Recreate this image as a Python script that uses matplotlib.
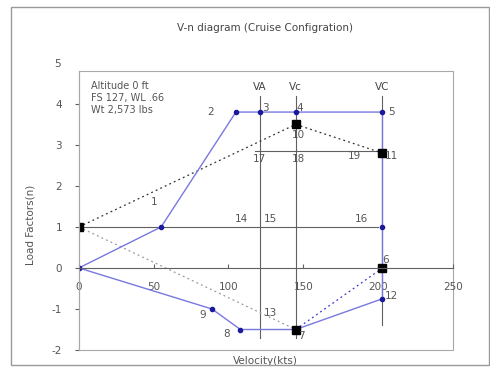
import matplotlib
matplotlib.use("Agg")
import matplotlib.pyplot as plt
from matplotlib.patches import Rectangle

plt.rcParams["axes.unicode_minus"] = False

# envelope (blue) points 0..12 in drawing order
env_v = [0, 55, 105, 121, 145, 203, 203, 203, 203, 145, 108, 89, 0]
env_n = [0, 1.0, 3.8, 3.8, 3.8, 3.8, 1.0, 0.0, -0.75, -1.5, -1.5, -1.0, 0]

# gust lines (black squares, dotted)
gust_up_v = [0, 145, 203]
gust_up_n = [1.0, 3.5, 2.8]
gust_dn_v = [0, 145]
gust_dn_n = [1.0, -1.5]
gust_blue_v = [145, 203]
gust_blue_n = [-1.5, 0.0]
sq_v = [0, 145, 203, 203, 145]
sq_n = [1.0, 3.5, 2.8, 0.0, -1.5]

# reference speeds
v_names = ["VA", "Vc", "VC"]
v_vals = [121, 145, 203]

# point numbers and where they sit
lab_txt = ["1", "2", "3", "4", "5", "6", "7", "8", "9", "10", "11", "12", "13",
           "14", "15", "16", "17", "18", "19"]
lab_v = [50, 88, 125, 148, 209, 205, 149, 99, 83, 147, 209, 209, 128,
         109, 128, 189, 121, 147, 184]
lab_n = [1.6, 3.8, 3.9, 3.9, 3.8, 0.2, -1.65, -1.6, -1.15, 3.25, 2.72, -0.68, -1.1,
         1.2, 1.2, 1.2, 2.65, 2.65, 2.72]

xticks = [0, 50, 100, 150, 200, 250]
yticks = [-2, -1, 0, 1, 2, 3, 4]

gray = "#606060"
fig = plt.figure(figsize=(4.9, 3.7), dpi=100)
fig.patches.append(Rectangle((0.022, 0.014), 0.975, 0.966, transform=fig.transFigure,
                             fill=False, edgecolor="#9a9a9a", linewidth=1.0))
ax = fig.add_axes([0.161, 0.054, 0.763, 0.754])
ax.set_xlim(0, 250)
ax.set_ylim(-2, 4.8)

# plot area frame
ax.add_patch(Rectangle((0, 0), 1, 1, transform=ax.transAxes, fill=False,
                       edgecolor="#a8a8a8", linewidth=0.8, clip_on=False))
for s in ["top", "right"]:
    ax.spines[s].set_visible(False)
ax.spines["left"].set_color("#a8a8a8")
ax.spines["bottom"].set_position(("data", 0))
ax.spines["bottom"].set_color(gray)
ax.spines["bottom"].set_linewidth(0.8)

# reference grid lines
ax.plot([0, 200], [1, 1], color=gray, lw=0.8)
ax.plot([118, 203], [2.85, 2.85], color=gray, lw=0.8)
for v in v_vals:
    ax.plot([v, v], [-1.7 if v < 200 else -1.4, 4.2], color=gray, lw=0.8)

for name, v in zip(v_names, v_vals):
    ax.text(v, 4.3, name, ha="center", va="bottom", fontsize=7.5, color="#444444")

# gust lines
ax.plot(gust_up_v, gust_up_n, color="#333333", ls=(0, (1.5, 2.5)), lw=0.9)
ax.plot(gust_dn_v, gust_dn_n, color="#999999", ls=(0, (1.5, 2.5)), lw=0.9)
ax.plot(gust_blue_v, gust_blue_n, color="#3838c8", ls=(0, (1.5, 2.5)), lw=0.9)

# envelope
ax.plot(env_v, env_n, color="#7878e0", lw=1.0, marker="o", ms=3,
        mfc="#1a1a9a", mec="#1a1a9a")
ax.plot(sq_v, sq_n, ls="none", marker="s", ms=6, color="black")

for t, v, n in zip(lab_txt, lab_v, lab_n):
    ax.text(v, n, t, ha="center", va="center", fontsize=7.5, color="#555555")

ax.text(8, 4.55, "Altitude 0 ft\nFS 127, WL .66\nWt 2,573 lbs", ha="left", va="top",
        fontsize=7, color="#555555", linespacing=1.25)

ax.set_xticks(xticks)
ax.set_yticks(yticks)
ax.tick_params(axis="x", direction="in", length=3, colors=gray, labelsize=7.5, pad=10,
               labelcolor="#555555")
ax.tick_params(axis="y", direction="out", length=3, colors=gray, labelsize=7.5, pad=9,
               labelcolor="#555555")
ax.text(-0.048, 4.97, "5", transform=ax.get_yaxis_transform(), ha="right", va="center",
        fontsize=7.5, color="#555555")

ax.set_xlabel("Velocity(kts)", fontsize=7.5, color="#555555", labelpad=0)
ax.xaxis.set_label_coords(0.5, -0.02)
ax.set_ylabel("Load Factors(n)", fontsize=7.5, color="#555555")
ax.yaxis.set_label_coords(-0.115, 0.45)
fig.text(0.54, 0.925, "V-n diagram (Cruise Configration)", ha="center", va="center",
         fontsize=7.5, color="#444444")

fig.savefig("out.png", dpi=100)
